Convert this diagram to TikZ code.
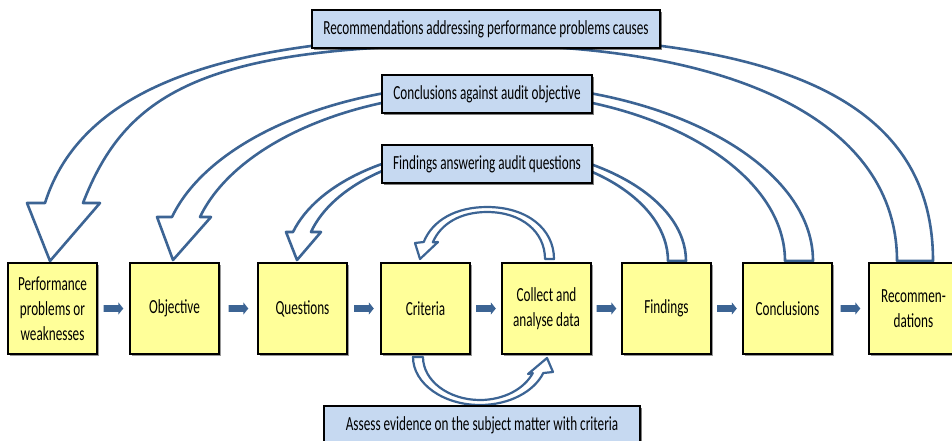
\documentclass[tikz,border=0pt]{standalone}
\usepackage{fontspec}
\setmainfont{Carlito}[FakeStretch=0.66]
\usetikzlibrary{calc,shadows}
\definecolor{boxyellow}{HTML}{FFFF99}
\definecolor{boxblue}{HTML}{C6D9F1}
\definecolor{flowblue}{HTML}{3C6494}
\begin{document}
\begin{tikzpicture}[x=1pt,y=-1pt,
  stage/.style={draw=black, line width=1.1pt, fill=boxyellow,
    minimum width=89pt, minimum height=91pt, inner sep=0pt, align=center,
    font=\fontsize{20}{25}\selectfont,
    drop shadow={shadow xshift=1.5pt, shadow yshift=-1.5pt, opacity=.4, fill=black}},
  note/.style={draw=black, line width=1.1pt, fill=boxblue,
    minimum height=38pt, inner sep=0pt, font=\fontsize{20}{24}\selectfont,
    drop shadow={shadow xshift=1.5pt, shadow yshift=-1.5pt, opacity=.5, fill=black}},
  band/.style={draw=flowblue, line width=2.6pt, fill=white, line join=round},
  loopband/.style={draw=flowblue, line width=2.2pt, fill=white, line join=round},
  blockarrow/.pic={\fill[flowblue] (-9.8,-3.4) -- (4.8,-3.4) -- (4.8,-6.2)
      -- (9.8,0) -- (4.8,6.2) -- (4.8,3.4) -- (-9.8,3.4) -- cycle;}
]
\useasboundingbox (0,0) rectangle (952,440);
\clip (0,0) rectangle (952,440);

% wide feedback bands (drawn first, the text boxes sit on top of them)
\draw[band] (933,261) .. controls (933,107) and (794,36) .. (486,36)
  .. controls (221,36) and (81,89) .. (45,203)
  -- (27,203) -- (50,261) -- (100,203) -- (83,203)
  .. controls (125,95) and (200,45) .. (480,45)
  .. controls (742.7,45) and (897,125.7) .. (897,261) -- cycle;

\draw[band] (813,261) .. controls (813,164.2) and (667,84) .. (487,84)
  .. controls (335.8,84) and (208.5,140.6) .. (172,217)
  -- (157,217) -- (173,260) -- (211,217) -- (200,217)
  .. controls (234.5,145) and (350,92) .. (487,92)
  .. controls (651.5,92) and (785,168.6) .. (785,261) -- cycle;

\draw[band] (686,261) .. controls (686,199) and (596.4,147) .. (486,147)
  .. controls (394,147) and (317,183) .. (293,232)
  -- (286,232) -- (297,260) -- (321,232) -- (311,232)
  .. controls (332.6,185.4) and (403,151) .. (486,151)
  .. controls (586.5,151) and (668,201.2) .. (668,261) -- cycle;

% loop between criteria and data collection
\draw[loopband] (554,259) .. controls (554,229) and (527.2,207) .. (487,207)
  .. controls (455.6,207) and (432.4,220.4) .. (423.7,242)
  -- (415,243) -- (420,259) -- (438,242) -- (432.8,242.3)
  .. controls (440.8,223.6) and (460.6,212) .. (487,212)
  .. controls (521.8,212) and (545,232) .. (545,259) -- cycle;

\draw[loopband] (413,357) .. controls (413,383.5) and (443,405) .. (480,405)
  .. controls (509.2,405) and (534.1,391.6) .. (543.3,373)
  -- (553,372) -- (547,358) -- (528,374) -- (532.8,373)
  .. controls (524.4,388.8) and (503.9,400) .. (480,400)
  .. controls (448.5,400) and (423,380.7) .. (423,357) -- cycle;

% audit stages
\node[stage] (s1) at (52.5,308.5) {Performance\\problems or\\weaknesses};
\node[stage] (s2) at (174.5,308.5) {Objective};
\node[stage] (s3) at (302.5,308.5) {Questions};
\node[stage] (s4) at (425.5,308.5) {Criteria};
\node[stage] (s5) at (546.5,308.5) {Collect and\\analyse data};
\node[stage] (s6) at (666.5,308.5) {Findings};
\node[stage] (s7) at (787.5,308.5) {Conclusions};
\node[stage] (s8) at (913.5,308.5) {Recommen-\\dations};

% arrows between stages
\pic at ($(s1.east)!.5!(s2.west)$) {blockarrow};
\pic at ($(s2.east)!.5!(s3.west)$) {blockarrow};
\pic at ($(s3.east)!.5!(s4.west)$) {blockarrow};
\pic at ($(s4.east)!.5!(s5.west)$) {blockarrow};
\pic at ($(s5.east)!.5!(s6.west)$) {blockarrow};
\pic at ($(s6.east)!.5!(s7.west)$) {blockarrow};
\pic at ($(s7.east)!.5!(s8.west)$) {blockarrow};

% labels of the feedback bands
\node[note, minimum width=348pt] (recs) at (486,29) {Recommendations addressing performance problems causes};
\node[note, minimum width=210pt] (concl) at (487,94) {Conclusions against audit objective};
\node[note, minimum width=210pt] (finds) at (487,164) {Findings answering audit questions};
\node[note, minimum width=316pt] (assess) at (482,425) {Assess evidence on the subject matter with criteria};
\end{tikzpicture}
\end{document}
